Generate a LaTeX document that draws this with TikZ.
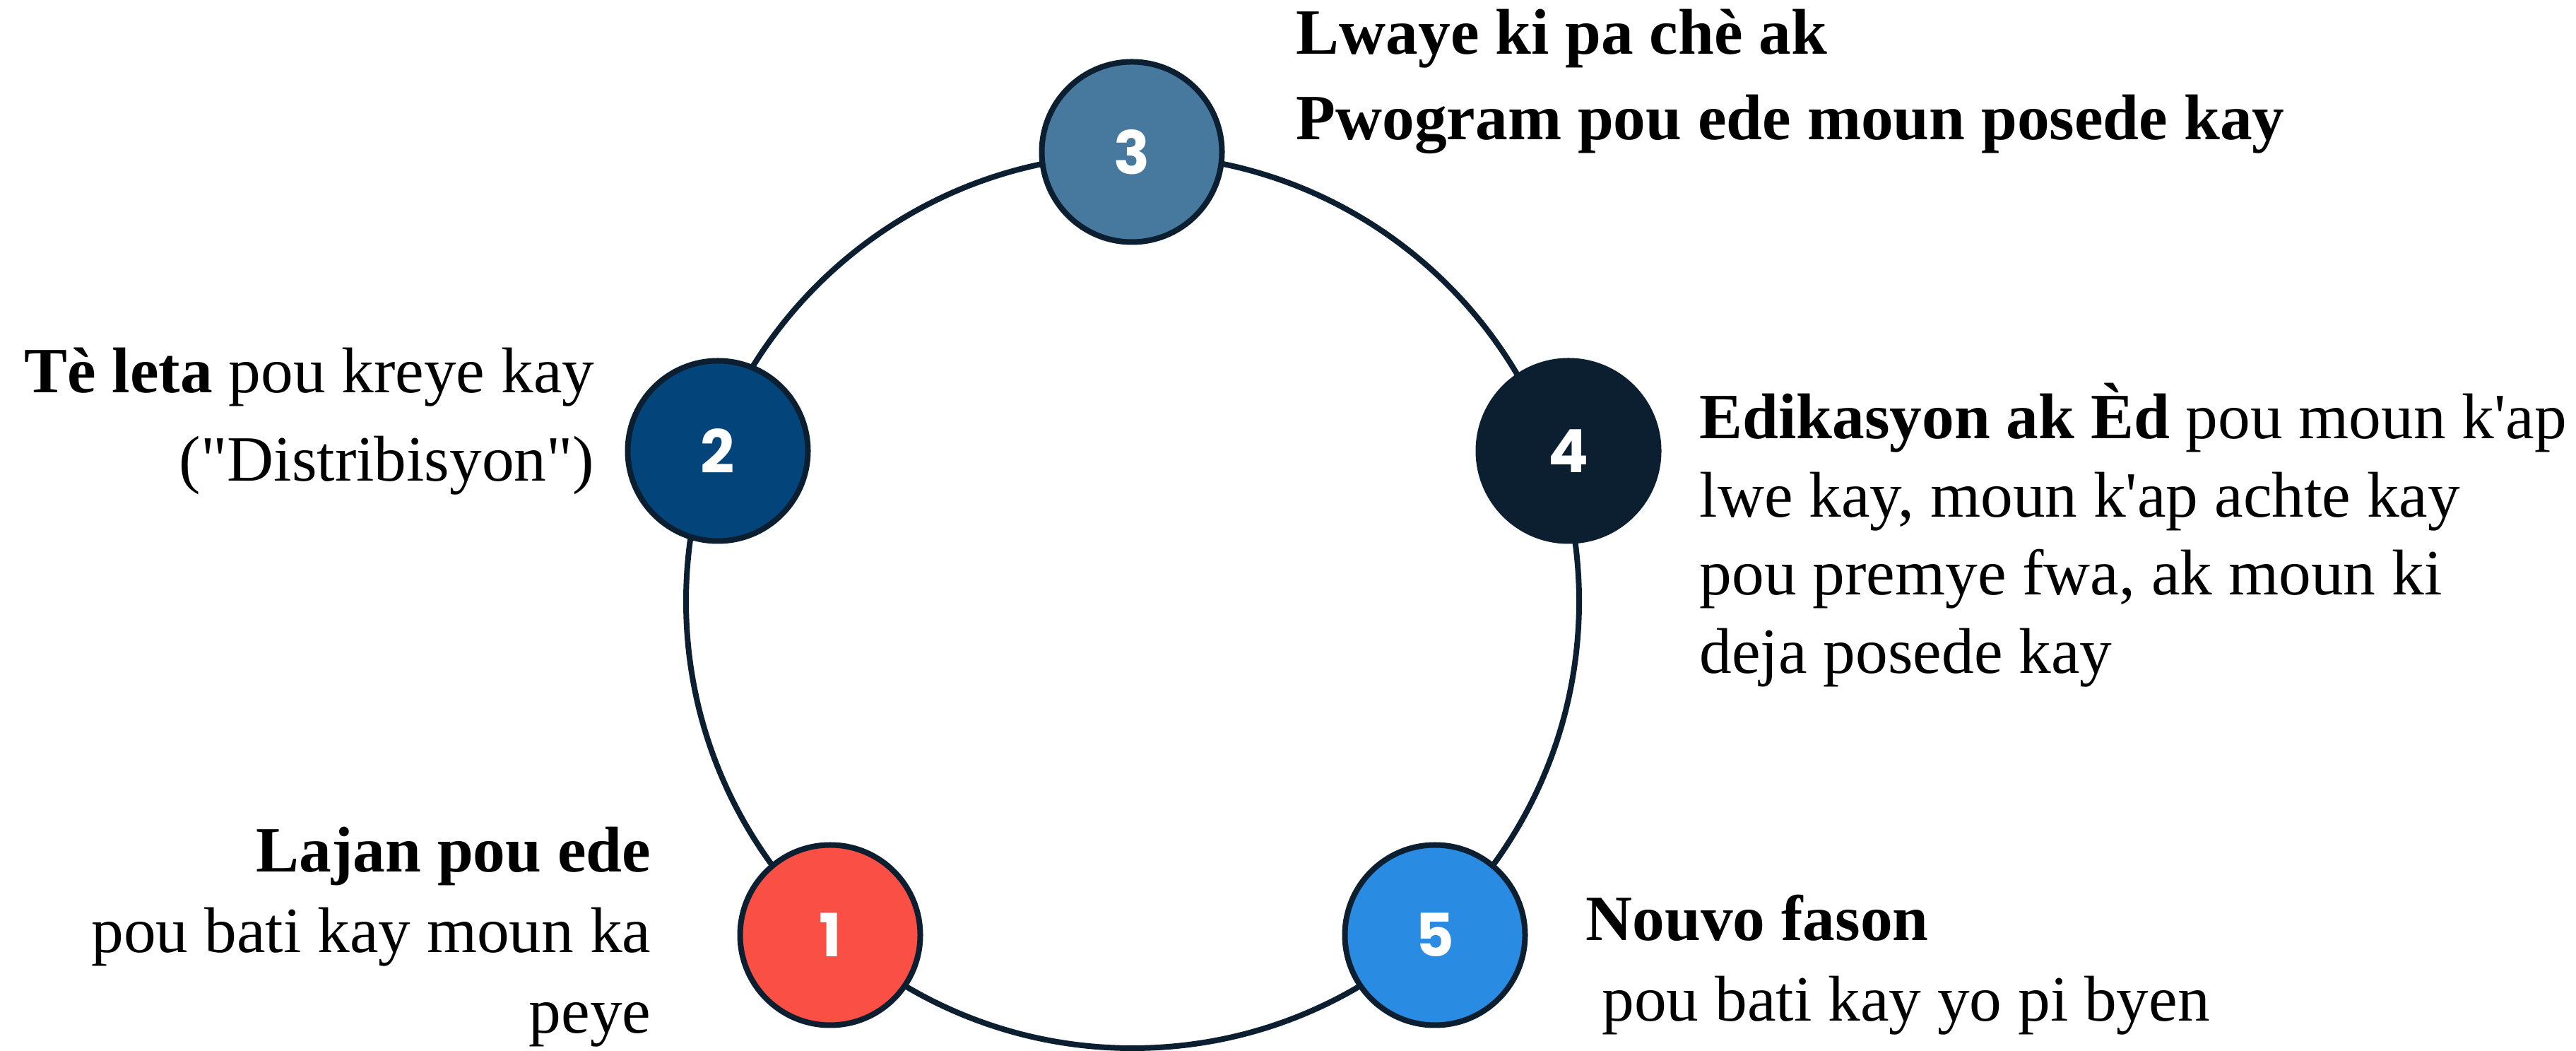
\documentclass[tikz,border=0pt]{standalone}
\usepackage{fontspec}
\setmainfont{Liberation Serif}
\newfontfamily\numfont{Poppins}
\definecolor{ink}{HTML}{0B1F30}
\definecolor{cone}{HTML}{FA4F45}
\definecolor{ctwo}{HTML}{03457A}
\definecolor{cthree}{HTML}{47789E}
\definecolor{cfour}{HTML}{0B1F30}
\definecolor{cfive}{HTML}{2A8BE2}
\begin{document}
\begin{tikzpicture}[x=1cm,y=1cm,
  stepnum/.style={circle, draw=ink, line width=0.08cm, minimum size=2.55cm, inner sep=0pt,
    font=\numfont\bfseries\fontsize{24pt}{28pt}\selectfont, text=white},
  lbl/.style={inner sep=0pt, text=black}]
\useasboundingbox (0,0) rectangle (36.46,14.87);
\coordinate (ring) at (16.03,6.36);
\draw[ink, line width=0.08cm] (ring) circle (6.32);

\node[stepnum, fill=cone]   (n1) at (11.75,1.64) {1};
\node[stepnum, fill=ctwo]   (n2) at (10.16,8.49) {2};
\node[stepnum, fill=cthree] (n3) at (16.02,12.72) {3};
\node[stepnum, fill=cfour]  (n4) at (22.20,8.49) {4};
\node[stepnum, fill=cfive]  (n5) at (20.31,1.64) {5};

\node[lbl, anchor=base west, font=\fontsize{26pt}{34.4pt}\selectfont] (t3) at (18.34,14.10)
  {\begin{tabular}[t]{@{}l@{}}\textbf{Lwaye ki pa chè ak}\\ \textbf{Pwogram pou ede moun posede kay}\end{tabular}};
\node[lbl, anchor=base east, font=\fontsize{26pt}{35.3pt}\selectfont] (t2) at (8.42,9.31)
  {\begin{tabular}[t]{@{}r@{}}\textbf{Tè leta} pou kreye kay\\ (\textquotedbl Distribisyon\textquotedbl)\end{tabular}};
\node[lbl, anchor=base west, font=\fontsize{26pt}{31.4pt}\selectfont] (t4) at (24.05,8.66)
  {\begin{tabular}[t]{@{}l@{}}\textbf{Edikasyon ak Èd} pou moun k\textquotesingle ap\\ lwe kay, moun k\textquotesingle ap achte kay\\ pou premye fwa, ak moun ki\\ deja posede kay\end{tabular}};
\node[lbl, anchor=base east, font=\fontsize{26pt}{32.4pt}\selectfont] (t1) at (9.22,2.53)
  {\begin{tabular}[t]{@{}r@{}}\textbf{Lajan pou ede}\\ pou bati kay moun ka\\ peye\end{tabular}};
\node[lbl, anchor=base west, font=\fontsize{26pt}{32.4pt}\selectfont] (t5) at (22.44,1.56)
  {\begin{tabular}[t]{@{}l@{}}\textbf{Nouvo fason}\\ \ pou bati kay yo pi byen\end{tabular}};
\end{tikzpicture}
\end{document}
